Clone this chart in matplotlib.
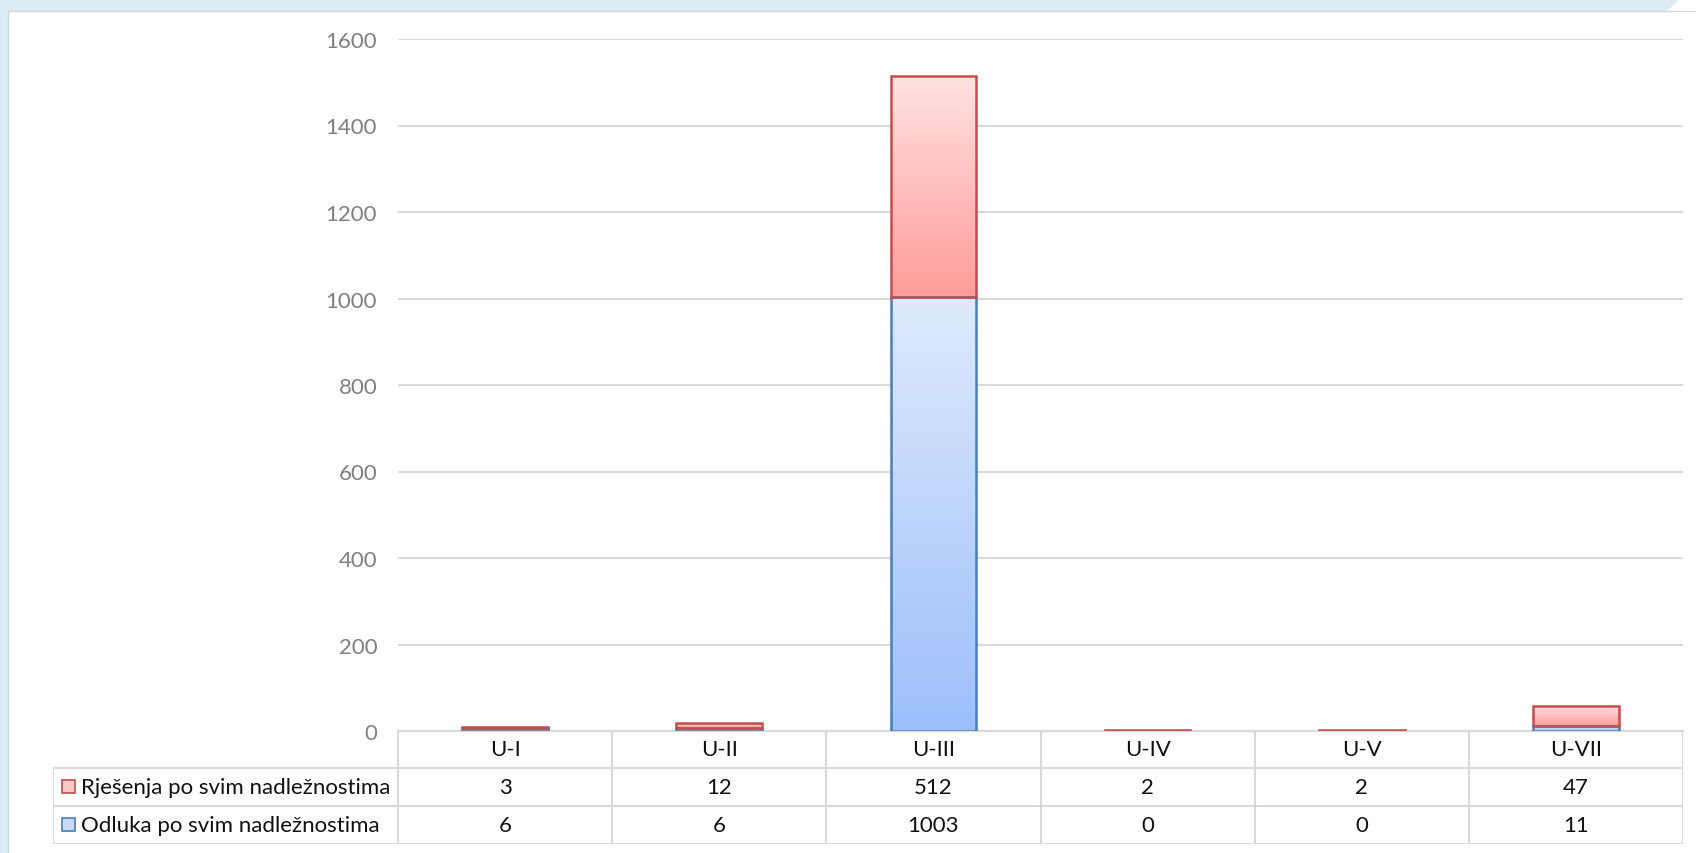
import numpy as np
import matplotlib
matplotlib.use("Agg")
import matplotlib.pyplot as plt
from matplotlib.colors import LinearSegmentedColormap
from matplotlib.patches import Polygon, Rectangle

categories = ["U-I", "U-II", "U-III", "U-IV", "U-V", "U-VII"]
series_names = ["Rješenja po svim nadležnostima", "Odluka po svim nadležnostima"]
rjesenja = [3, 12, 512, 2, 2, 47]
odluka = [6, 6, 1003, 0, 0, 11]
yticks = [0, 200, 400, 600, 800, 1000, 1200, 1400, 1600]

W, H = 1696, 854
plt.rcParams['font.family'] = ['Lato', 'DejaVu Sans']
fig = plt.figure(figsize=(W / 100, H / 100), dpi=100)
fig.patch.set_facecolor('white')

# background frame
frame = Polygon([(0, H), (1680, H), (1667, H - 12), (8, H - 12), (8, 0), (0, 0)],
                closed=True, transform=None, facecolor='#dbedf3', edgecolor='none')
fig.patches.append(frame)
fig.add_artist(plt.Line2D([8 / W, 1.0], [(H - 12) / H] * 2, transform=fig.transFigure,
                          color='#d0d8dc', lw=1))
fig.add_artist(plt.Line2D([8 / W] * 2, [0, (H - 12) / H], transform=fig.transFigure,
                          color='#d0d8dc', lw=1))

ax_l, ax_r, ax_t, ax_b = 398, 1683, 40, 732
ax = fig.add_axes([ax_l / W, (H - ax_b) / H, (ax_r - ax_l) / W, (ax_b - ax_t) / H])
ax.set_facecolor('none')
ax.set_xlim(-0.5, len(categories) - 0.5)
ax.set_ylim(0, 1600)
ax.set_yticks(yticks)
ax.set_yticklabels([str(v) for v in yticks], color='#7f7f7f', fontsize=16)
ax.tick_params(axis='y', length=0, pad=15)
ax.set_xticks([])
for s in ['top', 'right', 'left']:
    ax.spines[s].set_visible(False)
ax.spines['bottom'].set_color('#d9d9d9')
ax.spines['bottom'].set_linewidth(1.5)
ax.yaxis.grid(True, color='#d9d9d9', lw=1.5)
ax.set_axisbelow(True)

x = np.arange(len(categories))
bw = 0.40
red_cmap = LinearSegmentedColormap.from_list('r', ['#ff9c9a', '#ffe2e2'])
blue_cmap = LinearSegmentedColormap.from_list('b', ['#9cbffa', '#dfeafc'])
grad = np.linspace(0, 1, 256).reshape(-1, 1)

b1 = ax.bar(x, odluka, bw, facecolor='none', edgecolor='#4a7ebb', lw=1.8, zorder=3)
b2 = ax.bar(x, rjesenja, bw, bottom=odluka, facecolor='none', edgecolor='#c0504d', lw=1.8, zorder=3)
for bars, cmap in [(b1, blue_cmap), (b2, red_cmap)]:
    for p in bars:
        if p.get_height() <= 0:
            continue
        x0, y0 = p.get_x(), p.get_y()
        im = ax.imshow(grad, cmap=cmap, origin='lower', aspect='auto',
                       extent=[x0, x0 + p.get_width(), y0, y0 + p.get_height()], zorder=2)
        im.set_clip_path(p)
ax.set_xlim(-0.5, len(categories) - 0.5)
ax.set_ylim(0, 1600)

# data table
tl, tr, tt, tb = 53, 1683, 732, 845
tab = fig.add_axes([tl / W, (H - tb) / H, (tr - tl) / W, (tb - tt) / H])
tab.set_xlim(tl, tr)
tab.set_ylim(tb, tt)
tab.axis('off')
colw = (ax_r - ax_l) / len(categories)
rows_y = [732, 769, 807, 845]
gc = '#d9d9d9'
lw = 1.5
tab.plot([ax_l, ax_r], [rows_y[0]] * 2, color=gc, lw=lw)
for yy in rows_y[1:]:
    tab.plot([tl, ax_r], [yy, yy], color=gc, lw=lw)
for i in range(len(categories) + 1):
    xx = ax_l + i * colw
    tab.plot([xx, xx], [rows_y[0], rows_y[3]], color=gc, lw=lw)
tab.plot([tl, tl], [rows_y[1], rows_y[3]], color=gc, lw=lw)

fs = 16
tc = '#111111'
for i, c in enumerate(categories):
    cx = ax_l + (i + 0.5) * colw
    tab.text(cx, (rows_y[0] + rows_y[1]) / 2, c, ha='center', va='center', fontsize=fs, color=tc)
    tab.text(cx, (rows_y[1] + rows_y[2]) / 2, str(rjesenja[i]), ha='center', va='center', fontsize=fs, color=tc)
    tab.text(cx, (rows_y[2] + rows_y[3]) / 2, str(odluka[i]), ha='center', va='center', fontsize=fs, color=tc)

legend_styles = [('#ffc7c6', '#c0504d'), ('#c9dbf9', '#4a7ebb')]
for r, (name, (fc, ec)) in enumerate(zip(series_names, legend_styles)):
    cy = (rows_y[r + 1] + rows_y[r + 2]) / 2
    tab.add_patch(Rectangle((62, cy - 7), 13, 13, facecolor=fc, edgecolor=ec, lw=1.2))
    tab.text(81, cy, name, ha='left', va='center', fontsize=fs, color=tc)

fig.savefig('out.png', dpi=100)
